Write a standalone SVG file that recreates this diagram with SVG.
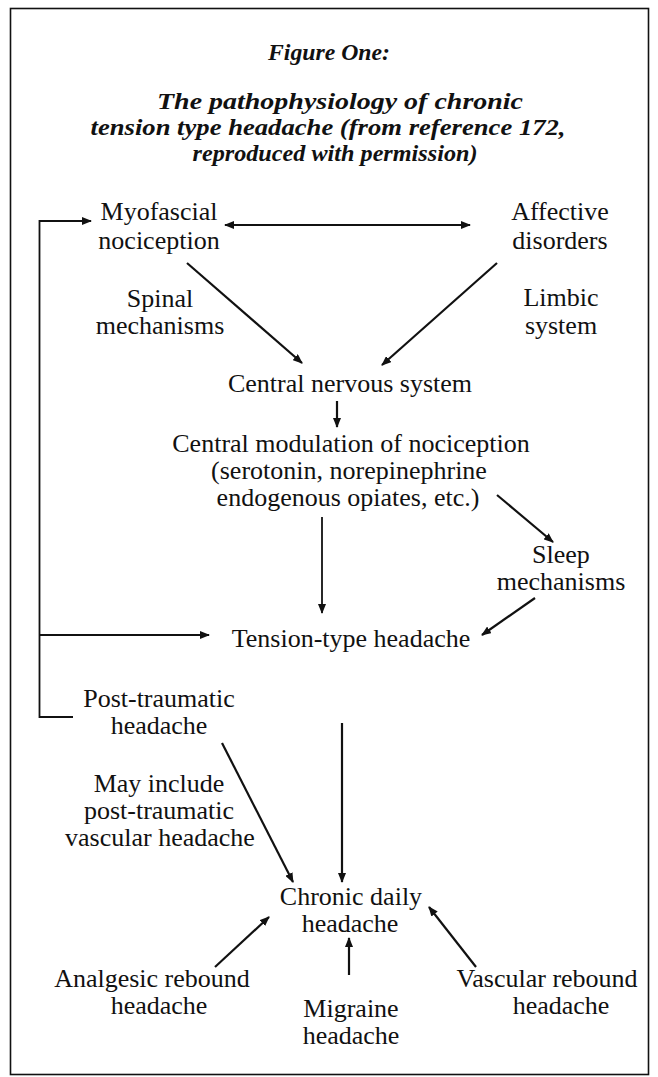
<svg xmlns="http://www.w3.org/2000/svg" width="658" height="1077" viewBox="0 0 658 1077">
<defs>
<style>
.t{font-family:"Liberation Serif","Times New Roman",serif;font-size:26px;fill:#111;text-anchor:middle}
.h{font-family:"Liberation Serif","Times New Roman",serif;font-size:23px;font-weight:bold;font-style:italic;fill:#111;text-anchor:middle}
.c{stroke:#111;stroke-width:2.2;fill:none}
.b{stroke:#111;stroke-width:1.8;fill:none}
</style>
<marker id="ah" markerUnits="userSpaceOnUse" markerWidth="10" markerHeight="8" refX="9" refY="4" orient="auto-start-reverse">
<path d="M0,0 L10,4 L0,8 z" fill="#111"/>
</marker>
</defs>
<rect x="10.5" y="8.5" width="638" height="1066" fill="#fff" stroke="#111" stroke-width="1.6"/>
<g id="title">
<text class="h" x="329" y="60" textLength="122" lengthAdjust="spacingAndGlyphs">Figure One:</text>
<text class="h" x="340" y="109" textLength="366" lengthAdjust="spacingAndGlyphs">The pathophysiology of chronic</text>
<text class="h" x="328" y="135" textLength="475" lengthAdjust="spacingAndGlyphs">tension type headache (from reference 172,</text>
<text class="h" x="335" y="161" textLength="285" lengthAdjust="spacingAndGlyphs">reproduced with permission)</text>
</g>
<g id="connectors">
<polyline class="b" points="73,717 39.5,717 39.5,221 91,221" marker-end="url(#ah)"/>
<line class="b" x1="39.5" y1="635" x2="209" y2="635" marker-end="url(#ah)"/>
<line class="c" x1="225" y1="225" x2="470" y2="225" marker-start="url(#ah)" marker-end="url(#ah)"/>
<line class="c" x1="187" y1="263" x2="302" y2="363" marker-end="url(#ah)"/>
<line class="c" x1="497" y1="263" x2="382" y2="365" marker-end="url(#ah)"/>
<line class="c" x1="337" y1="401" x2="337" y2="427" marker-end="url(#ah)"/>
<line class="c" x1="497" y1="495" x2="553" y2="542" marker-end="url(#ah)"/>
<line class="b" x1="322" y1="517" x2="322" y2="613" marker-end="url(#ah)"/>
<line class="c" x1="535" y1="598" x2="482" y2="635" marker-end="url(#ah)"/>
<line class="c" x1="222" y1="743" x2="293" y2="882" marker-end="url(#ah)"/>
<line class="c" x1="342" y1="723" x2="342" y2="882" marker-end="url(#ah)"/>
<line class="c" x1="215" y1="967" x2="269" y2="917" marker-end="url(#ah)"/>
<line class="c" x1="349" y1="975" x2="349" y2="938" marker-end="url(#ah)"/>
<line class="c" x1="476" y1="967" x2="429" y2="907" marker-end="url(#ah)"/>
</g>
<g id="myofascial"><text class="t" x="159" y="220">Myofascial</text><text class="t" x="159" y="249">nociception</text></g>
<g id="affective"><text class="t" x="560" y="220">Affective</text><text class="t" x="560" y="249">disorders</text></g>
<g id="spinal"><text class="t" x="160" y="307">Spinal</text><text class="t" x="160" y="334">mechanisms</text></g>
<g id="limbic"><text class="t" x="561" y="306">Limbic</text><text class="t" x="561" y="334">system</text></g>
<g id="cns"><text class="t" x="350" y="392">Central nervous system</text></g>
<g id="modulation"><text class="t" x="351" y="452">Central modulation of nociception</text><text class="t" x="349" y="479">(serotonin, norepinephrine</text><text class="t" x="348" y="506">endogenous opiates, etc.)</text></g>
<g id="sleep"><text class="t" x="561" y="563">Sleep</text><text class="t" x="561" y="590">mechanisms</text></g>
<g id="tension"><text class="t" x="351" y="647">Tension-type headache</text></g>
<g id="posttraumatic"><text class="t" x="159" y="707">Post-traumatic</text><text class="t" x="159" y="734">headache</text></g>
<g id="mayinclude"><text class="t" x="159" y="792">May include</text><text class="t" x="159" y="819">post-traumatic</text><text class="t" x="160" y="846">vascular headache</text></g>
<g id="chronic"><text class="t" x="351" y="905">Chronic daily</text><text class="t" x="350" y="932">headache</text></g>
<g id="analgesic"><text class="t" x="152" y="987">Analgesic rebound</text><text class="t" x="159" y="1014">headache</text></g>
<g id="migraine"><text class="t" x="351" y="1017">Migraine</text><text class="t" x="351" y="1044">headache</text></g>
<g id="vascular"><text class="t" x="547" y="987">Vascular rebound</text><text class="t" x="561" y="1014">headache</text></g>
</svg>
